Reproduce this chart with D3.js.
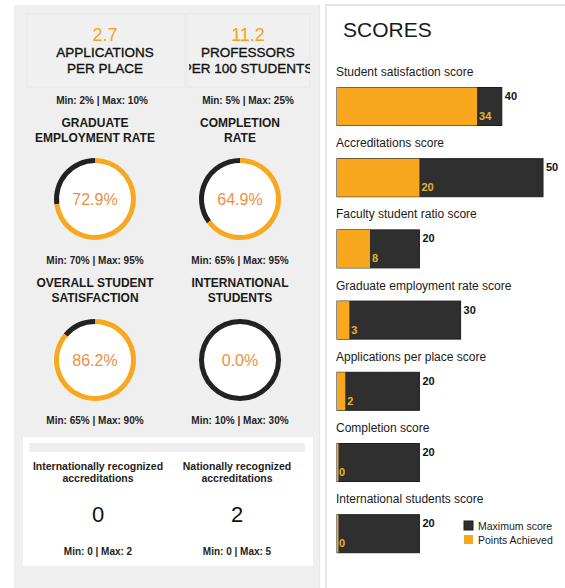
<!DOCTYPE html>
<html>
<head>
<meta charset="utf-8">
<script src="https://cdn.jsdelivr.net/npm/d3@7"></script>
<style>
  html, body { margin: 0; padding: 0; background: #fff; }
  svg { display: block; font-family: "Liberation Sans", Arial, sans-serif; }
</style>
</head>
<body>
<svg id="chart" width="565" height="588"></svg>
<script>
// Headline statistics
const statLabels = [["APPLICATIONS", "PER PLACE"], ["PROFESSORS", "PER 100 STUDENTS"]];
const statValues = ["2.7", "11.2"];
const statMin = ["2%", "5%"];
const statMax = ["10%", "25%"];

// Percentage gauges
const gaugeTitles = [
  ["GRADUATE", "EMPLOYMENT RATE"],
  ["COMPLETION", "RATE"],
  ["OVERALL STUDENT", "SATISFACTION"],
  ["INTERNATIONAL", "STUDENTS"]
];
const gaugeValues = [72.9, 64.9, 86.2, 0.0];
const gaugeMin = [70, 65, 65, 10];
const gaugeMax = [95, 95, 90, 30];

// Accreditation counts
const accTitles = [["Internationally recognized", "accreditations"], ["Nationally recognized", "accreditations"]];
const accValues = [0, 2];
const accMin = [0, 0];
const accMax = [2, 5];

// Score bars
const scoreCategories = [
  "Student satisfaction score",
  "Accreditations score",
  "Faculty student ratio score",
  "Graduate employment rate score",
  "Applications per place score",
  "Completion score",
  "International students score"
];
const scoreMax = [40, 50, 20, 30, 20, 20, 20];
const scoreAchieved = [34, 20, 8, 3, 2, 0, 0];

const ORANGE = "#f7a81f";
const DARK = "#2f2f2f";
const svg = d3.select("#chart");

// ---------- left panel ----------
svg.append("rect").attr("x", 14).attr("y", 5).attr("width", 306).attr("height", 590).attr("fill", "#efefef");
svg.append("line").attr("x1", 319.5).attr("x2", 319.5).attr("y1", 5).attr("y2", 588).attr("stroke", "#e6e6e6");

// headline boxes
const boxes = [{x: 27, w: 158, cx: 105}, {x: 187, w: 123, cx: 248}];
const defs = svg.append("defs");
boxes.forEach((b, i) => {
  defs.append("clipPath").attr("id", "clip" + i)
    .append("rect").attr("x", b.x + 2).attr("y", 14).attr("width", b.w - 2).attr("height", 73);
  svg.append("rect").attr("x", b.x).attr("y", 14).attr("width", b.w).attr("height", 73)
    .attr("fill", "#f0f0f0").attr("stroke", "#e7e7e7");
  const g = svg.append("g").attr("clip-path", `url(#clip${i})`);
  g.append("text").attr("x", b.cx).attr("y", 41).attr("text-anchor", "middle")
    .attr("font-size", 18).attr("fill", "#f2a31b").text(statValues[i]);
  statLabels[i].forEach((t, j) => {
    g.append("text").attr("x", b.cx).attr("y", 57 + j * 16).attr("text-anchor", "middle")
      .attr("font-size", 13.5).attr("fill", "#111")
      .attr("stroke", "#111").attr("stroke-width", 0.35).text(t);
  });
  svg.append("text").attr("x", [102, 248][i]).attr("y", 104).attr("text-anchor", "middle")
    .attr("font-size", 10).attr("font-weight", "bold").attr("fill", "#222")
    .text(`Min: ${statMin[i]} | Max: ${statMax[i]}`);
});

// gauges
const gaugeCols = [95, 240];
const gaugeRows = [{title: 127, cy: 199, min: 264}, {title: 287, cy: 360, min: 424}];
const angle = d3.scaleLinear().domain([0, 100]).range([0, 2 * Math.PI]);
const arc = d3.arc().innerRadius(36).outerRadius(41);

gaugeValues.forEach((v, i) => {
  const cx = gaugeCols[i % 2];
  const row = gaugeRows[Math.floor(i / 2)];
  gaugeTitles[i].forEach((t, j) => {
    svg.append("text").attr("x", cx).attr("y", row.title + j * 14.5).attr("text-anchor", "middle")
      .attr("font-size", 12).attr("font-weight", "bold").attr("fill", "#1a1a1a").text(t);
  });
  const g = svg.append("g").attr("transform", `translate(${cx},${row.cy})`);
  g.append("circle").attr("r", 38).attr("fill", "#fff");
  g.append("path").attr("d", arc({startAngle: angle(v), endAngle: angle(100)})).attr("fill", "#222");
  if (v > 0) g.append("path").attr("d", arc({startAngle: 0, endAngle: angle(v)})).attr("fill", ORANGE);
  g.append("text").attr("y", 6).attr("text-anchor", "middle").attr("font-size", 16)
    .attr("fill", "#ec8f45").text(v.toFixed(1) + "%");
  svg.append("text").attr("x", cx).attr("y", row.min).attr("text-anchor", "middle")
    .attr("font-size", 10).attr("font-weight", "bold").attr("fill", "#222")
    .text(`Min: ${gaugeMin[i]}% | Max: ${gaugeMax[i]}%`);
});

// accreditations box
svg.append("rect").attr("x", 23).attr("y", 437).attr("width", 290).attr("height", 129).attr("fill", "#fff");
svg.append("rect").attr("x", 29).attr("y", 443).attr("width", 276).attr("height", 9).attr("fill", "#eeeeee");
const accCols = [98, 237];
accValues.forEach((v, i) => {
  const cx = accCols[i];
  accTitles[i].forEach((t, j) => {
    svg.append("text").attr("x", cx).attr("y", 470 + j * 12).attr("text-anchor", "middle")
      .attr("font-size", 10.5).attr("font-weight", "bold").attr("fill", "#222").text(t);
  });
  svg.append("text").attr("x", cx).attr("y", 522).attr("text-anchor", "middle")
    .attr("font-size", 22).attr("fill", "#111").text(v);
  svg.append("text").attr("x", cx).attr("y", 555).attr("text-anchor", "middle")
    .attr("font-size", 10).attr("font-weight", "bold").attr("fill", "#222")
    .text(`Min: ${accMin[i]} | Max: ${accMax[i]}`);
});

// ---------- right panel ----------
svg.append("rect").attr("x", 326).attr("y", 5).attr("width", 260).attr("height", 600)
  .attr("fill", "#fff").attr("stroke", "#e6e6e6").attr("stroke-width", 2);
svg.append("text").attr("x", 343).attr("y", 37).attr("font-size", 21).attr("fill", "#1a1a1a").text("SCORES");

const x0 = 337;
const x = d3.scaleLinear().domain([0, 50]).range([0, 206]);
const y = d3.scaleBand().domain(scoreCategories).range([62, 62 + 7 * 71.2]);
const barH = 38;

const rows = svg.append("g").selectAll("g").data(scoreCategories).join("g")
  .attr("transform", d => `translate(${x0},${y(d)})`);

rows.append("text").attr("x", -1).attr("y", 14).attr("font-size", 12).attr("fill", "#1a1a1a").text(d => d);
rows.append("rect").attr("y", 25.5).attr("width", (d, i) => x(scoreMax[i])).attr("height", barH)
  .attr("fill", DARK).attr("stroke", "#1c1c1c").attr("stroke-width", 1);
rows.append("rect").attr("y", 25.5).attr("width", (d, i) => Math.max(x(scoreAchieved[i]), 1.5)).attr("height", barH)
  .attr("fill", ORANGE);
rows.append("text").attr("x", (d, i) => x(scoreMax[i]) + 3).attr("y", 38)
  .attr("font-size", 11).attr("font-weight", "bold").attr("fill", "#111").text((d, i) => scoreMax[i]);
rows.append("text").attr("x", (d, i) => x(scoreAchieved[i]) + 2).attr("y", 58)
  .attr("font-size", 11).attr("font-weight", "bold").attr("fill", "#e6b32c").text((d, i) => scoreAchieved[i]);

// legend
const legend = [{label: "Maximum score", color: DARK}, {label: "Points Achieved", color: ORANGE}];
const lg = svg.append("g").attr("transform", "translate(464,521)");
legend.forEach((l, i) => {
  lg.append("rect").attr("y", i * 14).attr("width", 9).attr("height", 9).attr("fill", l.color)
    .attr("stroke", i === 0 ? "#1c1c1c" : "none");
  lg.append("text").attr("x", 14).attr("y", i * 14 + 8.5).attr("font-size", 10.5).attr("fill", "#1a1a1a").text(l.label);
});
</script>
</body>
</html>
